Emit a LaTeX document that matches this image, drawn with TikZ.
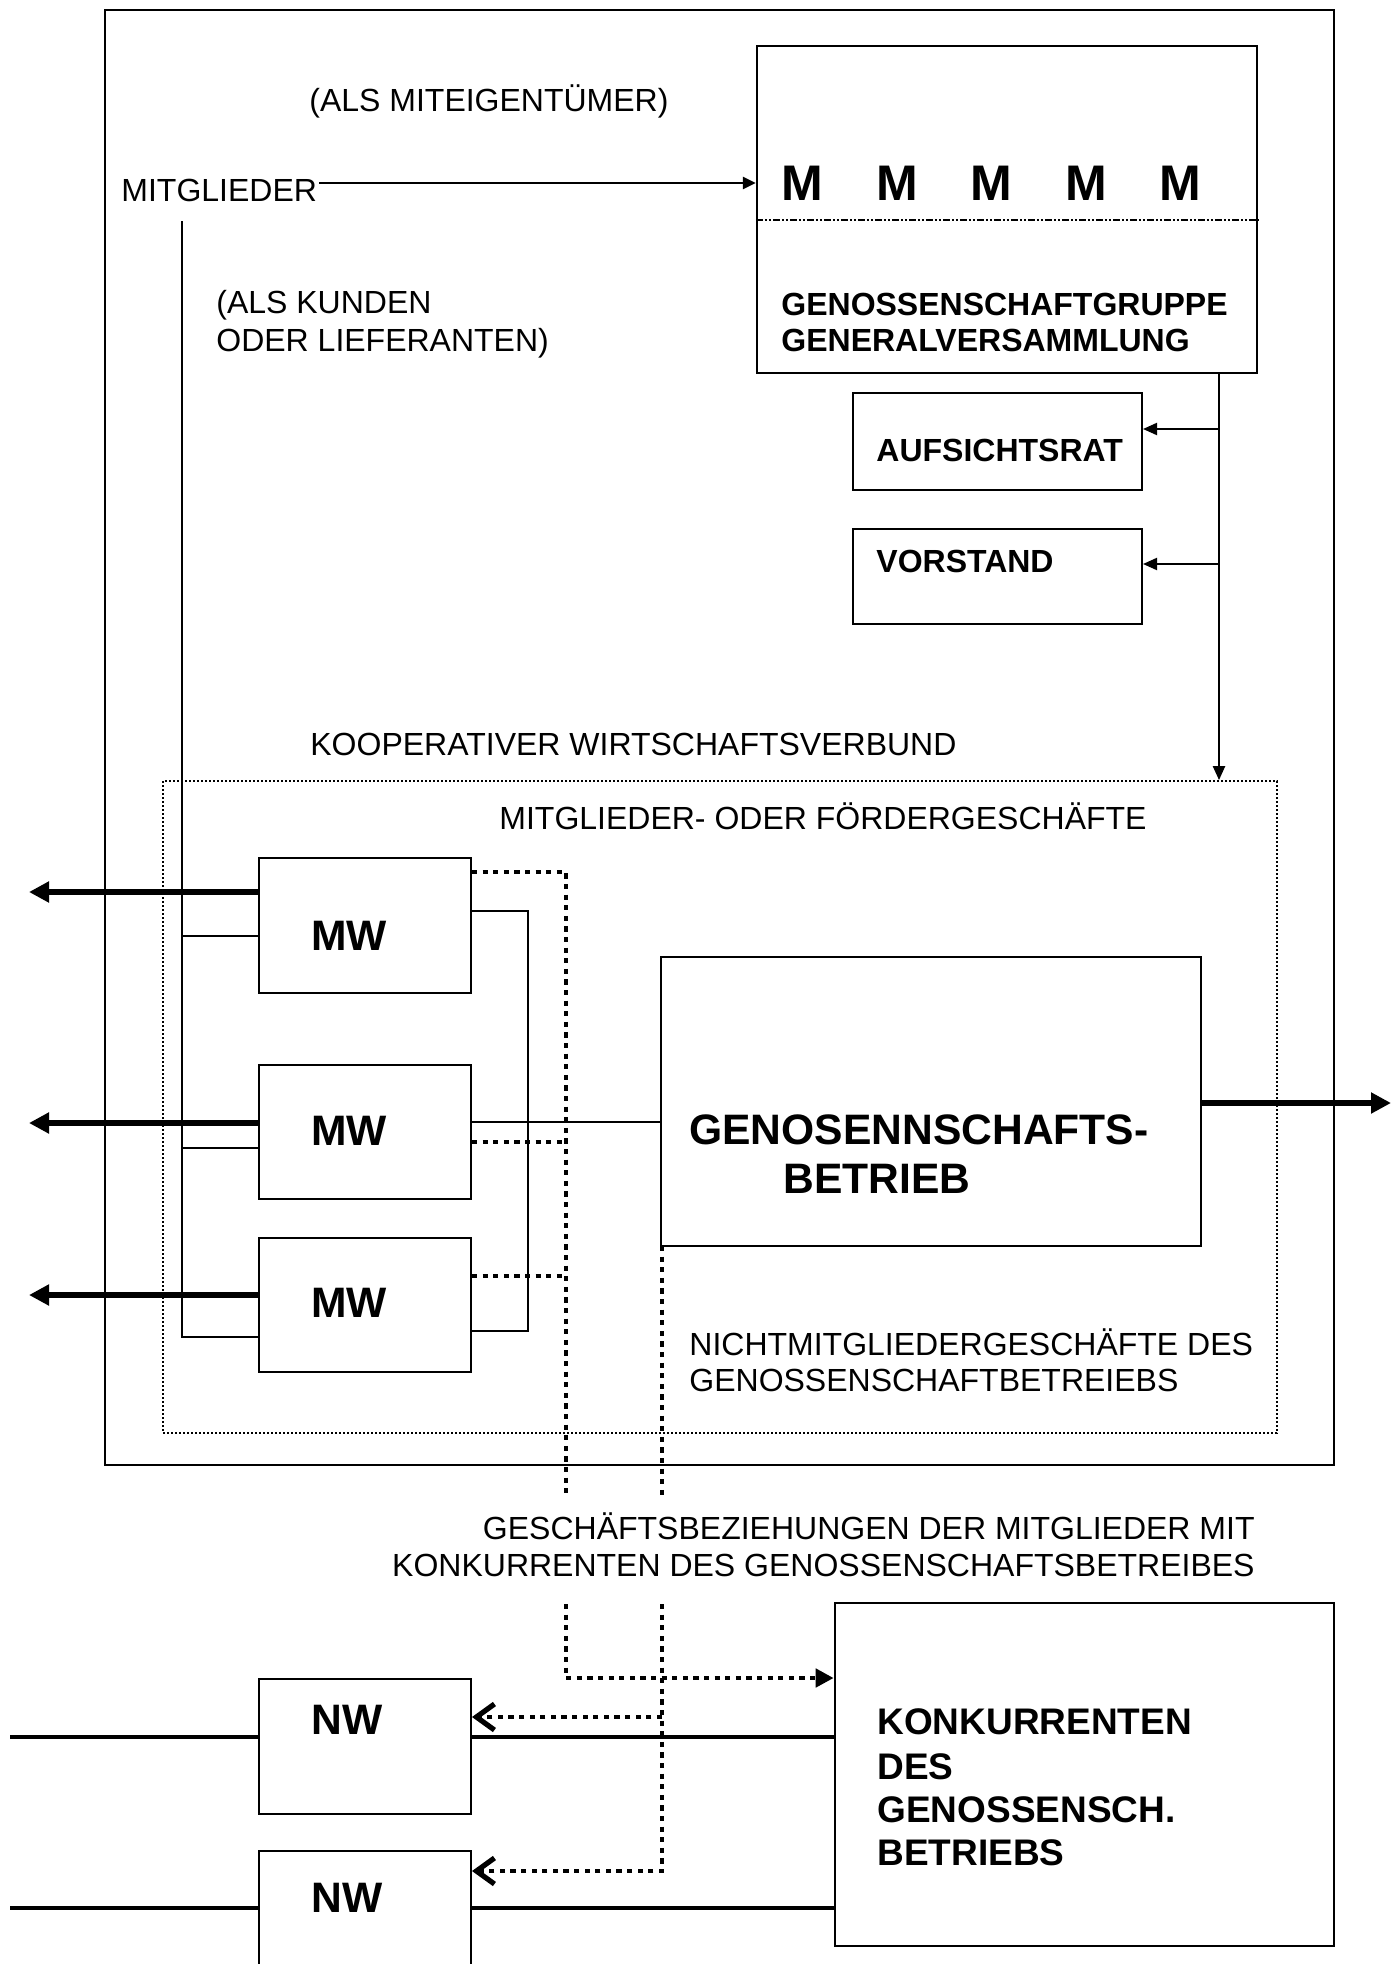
\documentclass[tikz,border=0pt]{standalone}
\usepackage{fontspec}
\setmainfont{Liberation Sans}
\usetikzlibrary{arrows.meta}
\begin{document}
\begin{tikzpicture}[x=0.5pt,y=-0.5pt,
  box/.style={draw, line width=1pt, inner sep=0pt, rectangle},
  txt/.style={inner sep=0pt, anchor=base west, font=\fontsize{16}{19}\selectfont},
  rtxt/.style={inner sep=0pt, anchor=base east, font=\fontsize{16}{19}\selectfont},
  btxt/.style={inner sep=0pt, anchor=base west, font=\fontsize{16}{19}\selectfont\bfseries},
  ktxt/.style={inner sep=0pt, anchor=base west, font=\fontsize{18.5}{22}\selectfont\bfseries},
  bigtxt/.style={inner sep=0pt, anchor=base west, font=\fontsize{21.3}{25}\selectfont\bfseries},
  mtxt/.style={inner sep=0pt, anchor=base, font=\fontsize{25}{30}\selectfont\bfseries},
  conn/.style={line width=1pt},
  medarr/.style={line width=1.3pt, -{Triangle[length=6.5pt,width=6pt]}},
  smallarr/.style={line width=1pt, -{Triangle[length=7pt,width=6pt]}},
  thickarr/.style={line width=2.6pt, -{Triangle[length=10pt,width=10pt]}},
  heavy/.style={line width=1.6pt},
  dotline/.style={line width=2.4pt, dash pattern=on 2.6pt off 2.7pt},
  dotarr/.style={dotline, -{Triangle[length=9pt,width=9pt]}},
  dotbarb/.style={dotline, -{Straight Barb[length=9pt,width=13pt,line width=2.6pt]}},
  dashdot/.style={line width=1pt, dash pattern=on 3.5pt off 1pt on 1pt off 1pt on 1pt off 1pt},
  dotbox/.style={draw, line width=0.9pt, dash pattern=on 1pt off 1pt, inner sep=0pt, rectangle}
]
\useasboundingbox (0,0) rectangle (1391,1964);

% boxes
\node[box] (outer) at (719.5,737.5) [minimum width=614.5pt, minimum height=727.5pt] {};
\node[box, line width=1.2pt] (gv) at (1007,209.5) [minimum width=250pt, minimum height=163.5pt] {};
\node[box] (auf) at (997.5,441.5) [minimum width=144.5pt, minimum height=48.5pt] {};
\node[box] (vor) at (997.5,576.5) [minimum width=144.5pt, minimum height=47.5pt] {};
\node[dotbox] (kwv) at (720,1107) [minimum width=557pt, minimum height=326pt] {};
\node[box] (mw1) at (365,925.5) [minimum width=106pt, minimum height=67.5pt] {};
\node[box] (mw2) at (365,1132) [minimum width=106pt, minimum height=67pt] {};
\node[box] (mw3) at (365,1305) [minimum width=106pt, minimum height=67pt] {};
\node[box] (gb) at (931,1101.5) [minimum width=270pt, minimum height=144.5pt] {};
\node[box, line width=1.3pt] (konk) at (1084.5,1774.5) [minimum width=249.5pt, minimum height=171.5pt] {};
\node[box] (nw1) at (365,1746.5) [minimum width=106pt, minimum height=67.5pt] {};
\node[box] (nw2) at (365,1925.5) [minimum width=106pt, minimum height=74.5pt] {};

% dash-dot divider in GV box
\coordinate (dd) at (757,220);
\draw[dashdot] (gv.west |- dd) -- (gv.east |- dd);

% texts
\node[txt] (t1) at (309,112) {(ALS MITEIGENTÜMER)};
\node[txt] (mitgl) at (121,201) {MITGLIEDER};
\node[txt] (t2) at (216,313) {(ALS KUNDEN};
\node[txt] (t3) at (216,351) {ODER LIEFERANTEN)};
\node[mtxt] (m1) at (802,200) {M};
\node[mtxt] (m2) at (897,200) {M};
\node[mtxt] (m3) at (991,200) {M};
\node[mtxt] (m4) at (1086,200) {M};
\node[mtxt] (m5) at (1180,200) {M};
\node[btxt] (g1) at (781,315) {GENOSSENSCHAFTGRUPPE};
\node[btxt] (g2) at (781,351) {GENERALVERSAMMLUNG};
\node[btxt] (at) at (876,461) {AUFSICHTSRAT};
\node[btxt] (vt) at (876,572) {VORSTAND};
\node[txt] (t4) at (310,755) {KOOPERATIVER WIRTSCHAFTSVERBUND};
\node[txt] (t5) at (499,829) {MITGLIEDER- ODER FÖRDERGESCHÄFTE};
\node[bigtxt] (mwt1) at (311,950) {MW};
\node[bigtxt] (mwt2) at (311,1145) {MW};
\node[bigtxt] (mwt3) at (311,1317) {MW};
\node[bigtxt] (gbt1) at (689,1144) {GENOSENNSCHAFTS-};
\node[bigtxt] (gbt2) at (783,1193) {BETRIEB};
\node[txt] (t6) at (689,1355) {NICHTMITGLIEDERGESCHÄFTE DES};
\node[txt] (t7) at (689,1391) {GENOSSENSCHAFTBETREIEBS};
\node[rtxt] (t8) at (1255,1539) {GESCHÄFTSBEZIEHUNGEN DER MITGLIEDER MIT};
\node[rtxt] (t9) at (1255,1576) {KONKURRENTEN DES GENOSSENSCHAFTSBETREIBES};
\node[ktxt] (k1) at (877,1734) {KONKURRENTEN};
\node[ktxt] (k2) at (877,1779) {DES};
\node[ktxt] (k3) at (877,1822) {GENOSSENSCH.};
\node[ktxt] (k4) at (877,1865) {BETRIEBS};
\node[bigtxt] (nwt1) at (311,1734) {NW};
\node[bigtxt] (nwt2) at (311,1912) {NW};

% MITGLIEDER -> GV
\coordinate (ma) at (319,183);
\draw[medarr] (ma) -- (gv.west |- ma);

% member vertical line and branches to MW boxes
\coordinate (vtop) at (182,221);
\coordinate (vbot) at (182,1337);
\coordinate (br1) at (182,936);
\coordinate (br2) at (182,1148);
\draw[conn] (vtop) -- (vbot) -- (mw3.west |- vbot);
\draw[conn] (br1) -- (mw1.west |- br1);
\draw[conn] (br2) -- (mw2.west |- br2);

% thick arrows to the left
\coordinate (l1) at (29,892);
\coordinate (l2) at (29,1123);
\coordinate (l3) at (29,1295);
\draw[thickarr] (mw1.west |- l1) -- (l1);
\draw[thickarr] (mw2.west |- l2) -- (l2);
\draw[thickarr] (mw3.west |- l3) -- (l3);

% right bracket MW1 - MW3
\coordinate (rb1) at (528,911);
\coordinate (rb2) at (528,1331);
\draw[conn] (mw1.east |- rb1) -- (rb1) -- (rb2) -- (mw3.east |- rb2);

% MW2 -> Genossenschaftsbetrieb
\coordinate (c2) at (500,1122);
\draw[conn] (mw2.east |- c2) -- (gb.west |- c2);

% Genossenschaftsbetrieb -> right
\coordinate (rr) at (1391,1103);
\draw[thickarr] (gb.east |- rr) -- (rr);

% GV -> Aufsichtsrat, Vorstand, Verbund
\coordinate (gvx) at (1219,373);
\coordinate (ga) at (1219,429);
\coordinate (gvo) at (1219,564);
\draw[smallarr, line width=1.1pt] (gvx) -- (kwv.north -| gvx);
\draw[smallarr] (ga) -- (auf.east |- ga);
\draw[smallarr] (gvo) -- (vor.east |- gvo);

% dotted relations of MW with competitors
\coordinate (d1) at (566,872);
\coordinate (d2) at (566,1142);
\coordinate (d3) at (566,1276);
\coordinate (dg1) at (566,1496);
\coordinate (dg2) at (566,1604);
\coordinate (dk) at (566,1678);
\draw[dotline] (mw1.east |- d1) -- (d1) -- (dg1);
\draw[dotline] (mw2.east |- d2) -- (d2);
\draw[dotline] (mw3.east |- d3) -- (d3);
\draw[dotarr] (dg2) -- (dk) -- (konk.west |- dk);

% dotted from Genossenschaftsbetrieb to NW
\coordinate (e0) at (662,1246);
\coordinate (eg1) at (662,1496);
\coordinate (eg2) at (662,1604);
\coordinate (e1) at (662,1717);
\coordinate (e2) at (662,1871);
\draw[dotline] (e0) -- (eg1);
\draw[dotbarb] (eg2) -- (e2) -- (nw2.east |- e2);
\draw[dotbarb] (e1) -- (nw1.east |- e1);

% NW lines
\coordinate (n1) at (10,1737);
\coordinate (n2) at (10,1908);
\draw[heavy] (n1) -- (nw1.west |- n1);
\draw[heavy] (nw1.east |- n1) -- (konk.west |- n1);
\draw[heavy] (n2) -- (nw2.west |- n2);
\draw[heavy] (nw2.east |- n2) -- (konk.west |- n2);
\end{tikzpicture}
\end{document}
